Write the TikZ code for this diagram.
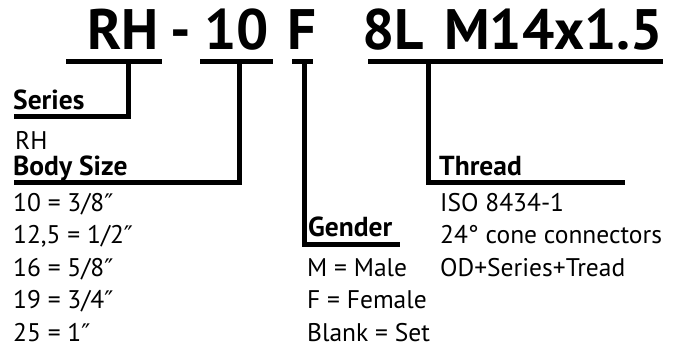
\documentclass[tikz,border=0pt]{standalone}
\usepackage{fontspec}
\setmainfont{PT Sans}
\newfontfamily\primefont[Scale=0.95]{DejaVu Sans}
\usetikzlibrary{positioning}

\newcommand{\codefont}{\fontsize{57}{60}\selectfont\bfseries}
\newcommand{\headfont}{\fontsize{27.5}{30}\selectfont\bfseries}
\newcommand{\listfont}{\fontsize{25.5}{32.5}\selectfont}
\newcommand{\inch}{{\primefont ″}}

\begin{document}
\begin{tikzpicture}[x=1pt, y=-1pt,
    every node/.style={inner sep=0pt, anchor=base west, font=\listfont},
    lead/.style={line width=5pt, black}
]
    \useasboundingbox (0,0) rectangle (689,347);

    % order code
    \node (rh_code) [font=\codefont, shift={(87, 50)}] {RH};
    \node (dash_code) [font=\codefont, shift={(170, 50)}] {-};
    \node (ten_code) [font=\codefont, shift={(204, 50)}] {10};
    \node (f_code) [font=\codefont, shift={(287, 50)}] {F};
    \node (eightl_code) [font=\codefont, shift={(362, 50)}] {8L};
    \node (thread_code) [font=\codefont, shift={(444, 50)}] {M14x1.5};

    % headings
    \node (series_head) [font=\headfont, shift={(13, 110)}] {Series};
    \node (body_head) [font=\headfont, shift={(13, 176)}] {Body Size};
    \node (gender_head) [font=\headfont, shift={(308, 237)}] {Gender};
    \node (thread_head) [font=\headfont, shift={(439, 176)}] {Thread};

    % values
    \node (series_list) [shift={(15, 150)}] {RH};
    \node (body_list) [align=left, anchor=north west, shift={(13, 193)}]
    {
        10 = 3/8\inch\\
        12,5 = 1/2\inch\\
        16 = 5/8\inch\\
        19 = 3/4\inch\\
        25 = 1\inch
    };
    \node (gender_list) [align=left, anchor=north west, shift={(307, 258)}]
    {
        M = Male\\
        F = Female\\
        Blank = Set
    };
    \node (thread_list) [align=left, anchor=north west, shift={(440, 193)}]
    {
        ISO 8434-1\\
        24° cone connectors\\
        OD+Series+Tread
    };

    % underline ends and corners
    \coordinate (rh_ul_l) at (66, 62);
    \coordinate (rh_ul_r) at (162, 62);
    \coordinate (ten_ul_l) at (200, 62);
    \coordinate (ten_ul_r) at (273, 62);
    \coordinate (f_ul_l) at (292, 62);
    \coordinate (f_ul_r) at (313, 62);
    \coordinate (thread_ul_l) at (368, 62);
    \coordinate (thread_ul_r) at (663, 62);

    \coordinate (series_top) at (128, 62);
    \coordinate (series_end) at (14, 117);
    \coordinate (body_top) at (239, 62);
    \coordinate (body_end) at (14, 183);
    \coordinate (gender_top) at (304, 62);
    \coordinate (gender_end) at (400, 245);
    \coordinate (thread_top) at (428, 62);
    \coordinate (thread_end) at (625, 183);

    \draw[lead] (rh_ul_l) to (rh_ul_r);
    \draw[lead] (ten_ul_l) to (ten_ul_r);
    \draw[lead] (f_ul_l) to (f_ul_r);
    \draw[lead] (thread_ul_l) to (thread_ul_r);

    \draw[lead] (series_top) |- (series_end);
    \draw[lead] (body_top) |- (body_end);
    \draw[lead] (gender_top) |- (gender_end);
    \draw[lead] (thread_top) |- (thread_end);

\end{tikzpicture}
\end{document}
